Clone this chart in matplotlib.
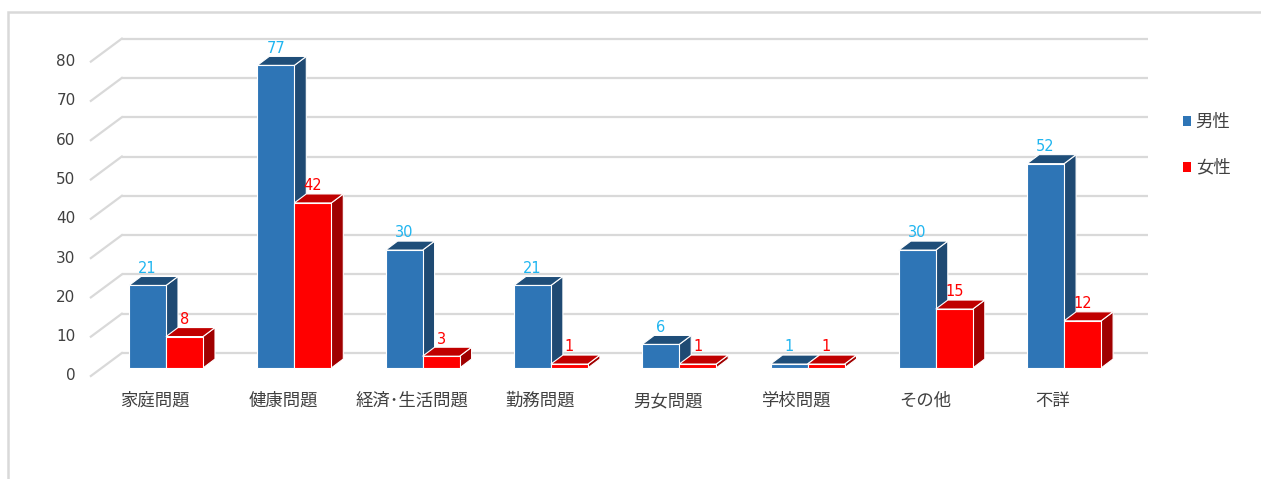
import matplotlib
matplotlib.use("Agg")
import matplotlib.pyplot as plt
from matplotlib.patches import Polygon, Patch, Rectangle

plt.rcParams['font.family'] = ['Noto Sans CJK JP', 'DejaVu Sans']
NUM_FONT = ['DejaVu Sans']

categories = ["家庭問題", "健康問題", "経済･生活問題", "勤務問題",
              "男女問題", "学校問題", "その他", "不詳"]
male = [21, 77, 30, 21, 6, 1, 30, 52]
female = [8, 42, 3, 1, 1, 1, 15, 12]
series_names = ["男性", "女性"]
yticks = [0, 10, 20, 30, 40, 50, 60, 70, 80]

# pixel scale of the bar plane
W, H = 1261, 479
PX_CAT = 128.3      # px per category
PX_VAL = 3.93       # px per unit value
ORIGIN_X = 166      # px of category 0 centre
ORIGIN_Y = 111      # px from bottom of value 0

BAR_W = 37 / PX_CAT
DEPTH = (12 / PX_CAT, 9 / PX_VAL)        # bar top/side depth
BACK = (20 / PX_CAT, 15 / PX_VAL)        # back wall behind bar plane
FRONT = (-11 / PX_CAT, -8 / PX_VAL)      # front axis plane

faces = {
    "male": dict(front="#2E75B6", top="#1F4E79", side="#1F4A73", label="#1FB5F0"),
    "female": dict(front="#FF0000", top="#C00000", side="#A00000", label="#FF0000"),
}

fig = plt.figure(figsize=(W / 100, H / 100), dpi=100)
ax = fig.add_axes([0, 0, 1, 1])
ax.set_xlim(-ORIGIN_X / PX_CAT, (W - ORIGIN_X) / PX_CAT)
ax.set_ylim(-ORIGIN_Y / PX_VAL, (H - ORIGIN_Y) / PX_VAL)
ax.axis('off')

# outer chart frame
ax.add_patch(Rectangle((8 / W, -0.1), 1.2, 1.1 - 12.5 / H, transform=ax.transAxes,
                       fill=False, edgecolor="#d9d9d9", linewidth=1.8, clip_on=False))

# back wall gridlines plus the left diagonal to the front plane
grid_c = "#d9d9d9"
xl, xr = -0.5, 7.5
for v in yticks:
    ax.plot([xl + BACK[0], xr + BACK[0]], [v + BACK[1], v + BACK[1]],
            color=grid_c, lw=1.6, solid_capstyle='butt', zorder=1)
    ax.plot([xl + FRONT[0], xl + BACK[0]], [v + FRONT[1], v + BACK[1]],
            color=grid_c, lw=1.6, zorder=1)
    ax.annotate(str(v), (xl + FRONT[0], v + FRONT[1]), xytext=(-11, 0),
                textcoords='offset points', ha='right', va='center',
                fontsize=11, family=NUM_FONT, color="#404040")


def draw_bar(x0, h, style, z):
    dx, dy = DEPTH
    x1 = x0 + BAR_W
    ec = dict(edgecolor="white", linewidth=0.8, zorder=z, joinstyle='miter')
    ax.add_patch(Polygon([(x1, 0), (x1 + dx, dy), (x1 + dx, h + dy), (x1, h)],
                         facecolor=style["side"], **ec))
    ax.add_patch(Polygon([(x0, h), (x0 + dx, h + dy), (x1 + dx, h + dy), (x1, h)],
                         facecolor=style["top"], **ec))
    ax.add_patch(Polygon([(x0, 0), (x1, 0), (x1, h), (x0, h)],
                         facecolor=style["front"], **ec))
    ax.annotate(str(h), (x0 + BAR_W / 2, h + dy), xytext=(0, 0.5),
                textcoords='offset points', ha='center', va='bottom',
                fontsize=10.5, family=NUM_FONT, color=style["label"], zorder=z + 1)


z = 2
for i, (m, f) in enumerate(zip(male, female)):
    draw_bar(i - BAR_W, m, faces["male"], z)
    draw_bar(i, f, faces["female"], z + 1)
    z += 2
    ax.annotate(categories[i], (i + FRONT[0], FRONT[1]), xytext=(0, -18),
                textcoords='offset points', ha='center', va='center',
                fontsize=12.5, color="#404040")

handles = [Patch(facecolor=faces["male"]["front"]), Patch(facecolor=faces["female"]["front"])]
ax.legend(handles, series_names, loc='center left', bbox_to_anchor=(1167 / W, 1 - 145 / H),
          frameon=False, fontsize=12.5, handlelength=0.5, handleheight=0.5,
          handletextpad=0.25, labelspacing=1.6, labelcolor="#404040")

fig.savefig("out.png", dpi=100)
